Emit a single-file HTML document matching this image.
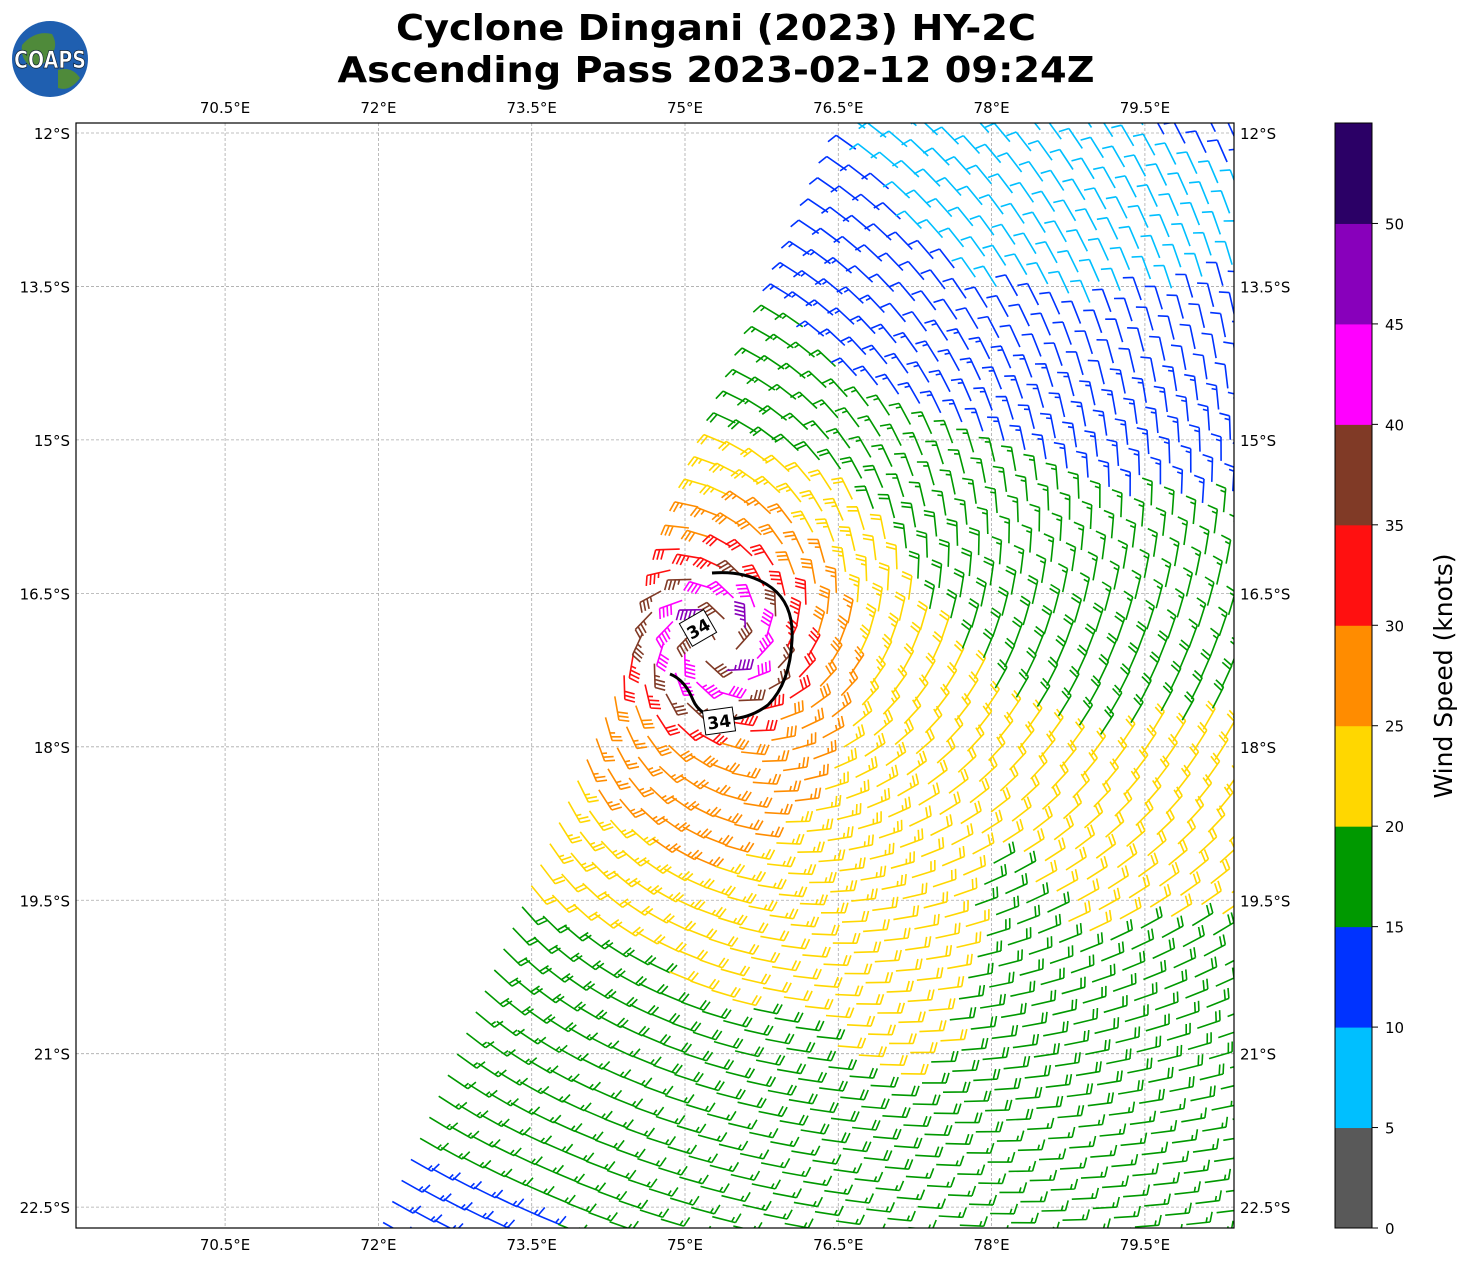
<!DOCTYPE html>
<html><head><meta charset="utf-8"><style>
html,body{margin:0;padding:0;background:#fff}
svg{display:block;font-family:"DejaVu Sans","Liberation Sans",sans-serif}
</style></head><body>
<svg id="chart" width="1472" height="1264" viewBox="0 0 1472 1264">
<defs><clipPath id="plotclip"><rect x="76" y="123" width="1158" height="1105"/></clipPath></defs>
<g>
<circle cx="50" cy="59" r="38" fill="#1f5fb0"/>
<path d="M22,45 Q35,30 52,34 Q60,48 48,58 Q40,70 30,66 Q20,58 22,45Z" fill="#4f8a3a"/>
<path d="M58,70 Q72,66 80,78 Q70,92 58,88Z" fill="#4f8a3a"/>
<text x="50" y="68" text-anchor="middle" font-size="24" font-weight="bold" fill="#fff" stroke="#123" stroke-width="0.8" textLength="72" lengthAdjust="spacingAndGlyphs">COAPS</text>
</g>
<text x="716" y="40" text-anchor="middle" font-size="36" font-weight="bold" textLength="640" lengthAdjust="spacingAndGlyphs">Cyclone Dingani (2023) HY-2C</text>
<text x="716" y="82" text-anchor="middle" font-size="36" font-weight="bold" textLength="757" lengthAdjust="spacingAndGlyphs">Ascending Pass 2023-02-12 09:24Z</text>
<g id="grid"></g>
<g id="barbs" clip-path="url(#plotclip)"></g>
<g>
<path d="M670,674 Q685,680 693,700 Q700,716 720,718 Q745,722 768,705 Q790,683 792,640 Q794,605 772,588 Q748,570 712,573" fill="none" stroke="#000" stroke-width="3"/>
<g transform="translate(698,628) rotate(-30)"><rect x="-14" y="-13" width="28" height="26" fill="#fff" stroke="#000"/><text x="0" y="7" text-anchor="middle" font-size="17" font-weight="bold">34</text></g>
<g transform="translate(719,721) rotate(-8)"><rect x="-15" y="-12" width="30" height="24" fill="#fff" stroke="#000"/><text x="0" y="7" text-anchor="middle" font-size="17" font-weight="bold">34</text></g>
</g>
<rect x="76" y="123" width="1158" height="1105" fill="none" stroke="#000" stroke-width="1.2"/>
<g id="labels"></g>
<g id="cbar"></g>
<text transform="translate(1452,676) rotate(-90)" text-anchor="middle" font-size="25">Wind Speed (knots)</text>
</svg>
<script>
const lonTicks=[70.5,72,73.5,75,76.5,78,79.5];
const latTicks=[12,13.5,15,16.5,18,19.5,21,22.5];
const cbarBounds=[0,5,10,15,20,25,30,35,40,45,50,55];
const cbarColors=["#595959","#00bfff","#0033ff","#009900","#ffd700","#ff8c00","#ff1010","#803a26","#ff00ff","#8800bb","#2b0066"];
const cbarTicks=[0,5,10,15,20,25,30,35,40,45,50];
const gridLons=[69,70,71,72,73,74,75,76,77,78,79,80,81];
const gridLats=[12,13,14,15,16,17,18,19,20,21,22,23];
const row12=[12,12,12,12,12,12,12,12,9,8,9,11,12];
const row13=[13,13,13,13,13,13,13,13,11,8,8,8,9];
const row14=[15,15,15,15,15,16,16,16,13,12,11,12,12];
const row15=[17,17,17,17,17,18,18,18,16,15,14,13,13];
const row16=[20,20,20,20,20,22,23,22,19,17,16,16,16];
const row17=[22,22,22,22,22,24,26,25,22,19,18,17,17];
const row18=[22,22,22,22,24,26,28,27,23,21,20,21,21];
const row19=[20,20,20,20,21,23,26,24,23,20,21,22,22];
const row20=[18,18,18,18,18,19,21,22,22,19,20,19,19];
const row21=[16,16,16,16,17,17,18,19,21,19,18,18,18];
const row22=[14,14,14,14,16,16,16,17,18,17,17,17,17];
const row23=[12,12,12,12,13,15,15,15,14,15,15,15,15];
const speedRows=[row12,row13,row14,row15,row16,row17,row18,row19,row20,row21,row22,row23];
const coreLon=[75.29], coreLat=[16.96], coreVmax=[50], coreRmax=[0.35];

const NS="http://www.w3.org/2000/svg";
const px=lon=>685+(lon-75)*102.2;
const py=lat=>133+(lat-12)*102.3;
const lonOf=x=>75+(x-685)/102.2;
const latOf=y=>12+(y-133)/102.3;
function mk(tag,attrs,parent){const e=document.createElementNS(NS,tag);for(const k in attrs)e.setAttribute(k,attrs[k]);parent.appendChild(e);return e;}
const G=document.getElementById('grid'),L=document.getElementById('labels'),B=document.getElementById('barbs'),C=document.getElementById('cbar');
lonTicks.forEach(v=>{const x=px(v);
 const l=mk('line',{x1:x,x2:x,y1:123,y2:1228,stroke:'#aaa','stroke-width':0.8,'stroke-dasharray':'3,2'},G);
 
 
 [113,1250].forEach(y=>{const t=mk('text',{x:x,y:y,'text-anchor':'middle','font-size':15},L);t.textContent=v+'°E';
 
 });});
latTicks.forEach(v=>{const y=py(v);
 const l=mk('line',{x1:76,x2:1234,y1:y,y2:y,stroke:'#aaa','stroke-width':0.8,'stroke-dasharray':'3,2'},G);
 
 
 const t1=mk('text',{x:70,y:y+6,'text-anchor':'end','font-size':15},L);t1.textContent=v+'°S';
 
 
 const t2=mk('text',{x:1240,y:y+6,'text-anchor':'start','font-size':15},L);t2.textContent=v+'°S';
 
 });
const cy=v=>1228-(v/55)*1105;
for(let i=0;i<cbarColors.length;i++){
 const r=mk('rect',{x:1335,y:cy(cbarBounds[i+1]),width:37,height:cy(cbarBounds[i])-cy(cbarBounds[i+1])+0.5,fill:cbarColors[i]},C);
 
 }
mk('rect',{x:1335,y:123,width:37,height:1105,fill:'none',stroke:'#000'},C);
cbarTicks.forEach(v=>{const y=cy(v);mk('line',{x1:1372,x2:1378,y1:y,y2:y,stroke:'#000'},C);
 const t=mk('text',{x:1385,y:y+6,'font-size':15},C);t.textContent=v;
 
 });
function colorFor(s){let i=Math.floor(s/5);if(i<0)i=0;if(i>10)i=10;return cbarColors[i];}
function bgSpeed(lon,lat){
 let fi=(lon-gridLons[0]),fj=(lat-gridLats[0]);
 fi=Math.max(0,Math.min(gridLons.length-1.001,fi));fj=Math.max(0,Math.min(gridLats.length-1.001,fj));
 const i=Math.floor(fi),j=Math.floor(fj),a=fi-i,b=fj-j;
 return speedRows[j][i]*(1-a)*(1-b)+speedRows[j][i+1]*a*(1-b)+speedRows[j+1][i]*(1-a)*b+speedRows[j+1][i+1]*a*b;}
function speedAt(lon,lat){
 const dl=lon-coreLon[0],dt=lat-coreLat[0],r=Math.hypot(dl,dt);
 let vc=r<coreRmax[0]?coreVmax[0]*Math.max(0.75,r/coreRmax[0]):coreVmax[0]*Math.sqrt(coreRmax[0]/r);
 if(r>1.9)vc*=Math.exp(-(r-1.9));
 return Math.max(bgSpeed(lon,lat),vc);}
function drawBarb(x,y,s,col){
 const cx=px(coreLon[0]),cyy=py(coreLat[0]);
 const dx=x-cx,dy=y-cyy,r=Math.hypot(dx,dy)||1;
 let vx=-dy/r-0.35*dx/r,vy=dx/r-0.35*dy/r;
 const t=Math.max(0,Math.min(0.5,(y-cyy-150)/700));
 vx=vx*(1-t)+(-1)*t;vy=vy*(1-t)+(-0.15)*t;
 const m=Math.hypot(vx,vy)||1;const ux=-vx/m,uy=-vy/m;
 const Ls=24,tx=x+ux*Ls,ty=y+uy*Ls;const pxx=uy,pyy=-ux;
 let d='M'+x.toFixed(1)+','+y.toFixed(1)+'L'+tx.toFixed(1)+','+ty.toFixed(1);
 let q=Math.round(s/5)*5;const n50=Math.floor(q/50);q-=n50*50;const n10=Math.floor(q/10);q-=n10*10;const n5=q>=5?1:0;
 let pos=0;let fills='';
 for(let k=0;k<n50;k++){const ax=tx-ux*pos,ay=ty-uy*pos,bx=ax-ux*5,by=ay-uy*5;
  fills+='M'+ax.toFixed(1)+','+ay.toFixed(1)+'L'+(ax+pxx*10).toFixed(1)+','+(ay+pyy*10).toFixed(1)+'L'+bx.toFixed(1)+','+by.toFixed(1)+'Z';pos+=7;}
 for(let k=0;k<n10;k++){const ax=tx-ux*pos,ay=ty-uy*pos;d+='M'+ax.toFixed(1)+','+ay.toFixed(1)+'L'+(ax+pxx*10+ux*3).toFixed(1)+','+(ay+pyy*10+uy*3).toFixed(1);pos+=4;}
 if(n5){if(pos===0)pos=4;const ax=tx-ux*pos,ay=ty-uy*pos;d+='M'+ax.toFixed(1)+','+ay.toFixed(1)+'L'+(ax+pxx*5+ux*1.5).toFixed(1)+','+(ay+pyy*5+uy*1.5).toFixed(1);}
 const p=mk('path',{d:d,stroke:col,'stroke-width':1.6,fill:'none'},B);
 
 
 if(fills){const f=mk('path',{d:fills,fill:col},B);
  
  }}
const ua=[0.403,-0.915],va=[0.915,0.403],S=23;
for(let i=-80;i<80;i++)for(let j=-80;j<80;j++){
 const x=715+i*S*ua[0]+j*S*va[0],y=640+i*S*ua[1]+j*S*va[1];
 if(x<60||x>1250||y<115||y>1245)continue;
 const edge=858-0.44*(y-123);if(x<edge)continue;
 const s=speedAt(lonOf(x),latOf(y));
 drawBarb(x,y,s,colorFor(s));}
</script>
</body></html>
